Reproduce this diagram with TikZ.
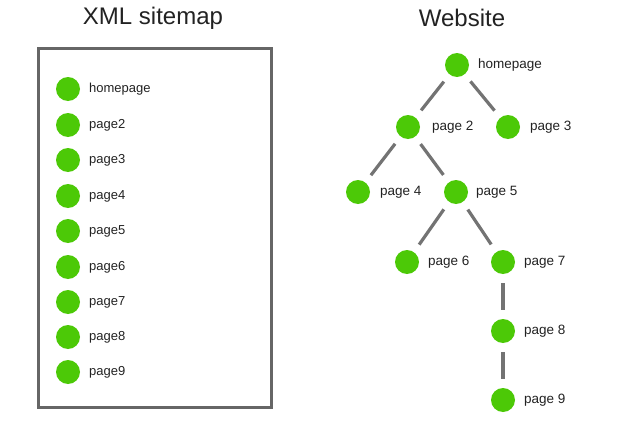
\documentclass[tikz,border=0pt]{standalone}
\usepackage{fontspec}
\setmainfont{Liberation Sans}
\definecolor{dotgreen}{HTML}{4CC907}
\definecolor{boxgray}{HTML}{666666}
\definecolor{edgegray}{HTML}{737373}
\definecolor{txtgray}{HTML}{222222}
\begin{document}
\begin{tikzpicture}[x=1pt,y=-1pt,
  dot/.style={circle,fill=dotgreen,draw=none,minimum size=24pt,inner sep=0pt},
  lab/.style={font=\fontsize{13}{15}\selectfont,text=txtgray,inner sep=0pt,anchor=west},
  tlab/.style={lab,font=\fontsize{13.5}{15}\selectfont},
  title/.style={font=\fontsize{24}{28}\selectfont,text=txtgray,inner sep=0pt},
  edge/.style={draw=edgegray,line width=3.2pt,shorten <=9pt,shorten >=9pt},
  frame/.style={draw=boxgray,line width=3pt}]
\useasboundingbox (0,0) rectangle (625,423);
% titles
\node[title] (t_xml) at (153,18) {XML sitemap};
\node[title] (t_web) at (462,18) {Website};
% sitemap box
\node[frame,minimum width=233pt,minimum height=359pt,inner sep=0pt] (box) at (154.5,227.5) {};
% list
\foreach \i/\y/\t in {1/89/homepage,2/125/page2,3/160/page3,4/196/page4,5/231/page5,6/267/page6,7/302/page7,8/337/page8,9/372/page9}{
  \node[dot] (l\i) at (68,\y) {};
  \node[lab] (lt\i) at (89,\y) {\t};
}
% tree
\node[dot] (w1) at (457,65) {};
\node[dot] (w2) at (408,127) {};
\node[dot] (w3) at (508,127) {};
\node[dot] (w4) at (358,192) {};
\node[dot] (w5) at (456,192) {};
\node[dot] (w6) at (407,262) {};
\node[dot] (w7) at (503,262) {};
\node[dot] (w8) at (503,331) {};
\node[dot] (w9) at (503,400) {};
\node[tlab] (wt1) at (478,65) {homepage};
\node[tlab] (wt2) at (432,127) {page 2};
\node[tlab] (wt3) at (530,127) {page 3};
\node[tlab] (wt4) at (380,192) {page 4};
\node[tlab] (wt5) at (476,192) {page 5};
\node[tlab] (wt6) at (428,262) {page 6};
\node[tlab] (wt7) at (524,262) {page 7};
\node[tlab] (wt8) at (524,331) {page 8};
\node[tlab] (wt9) at (524,400) {page 9};
\draw[edge] (w1) -- (w2);
\draw[edge] (w1) -- (w3);
\draw[edge] (w2) -- (w4);
\draw[edge] (w2) -- (w5);
\draw[edge] (w5) -- (w6);
\draw[edge] (w5) -- (w7);
\draw[edge] (w7) -- (w8);
\draw[edge] (w8) -- (w9);
\end{tikzpicture}
\end{document}
